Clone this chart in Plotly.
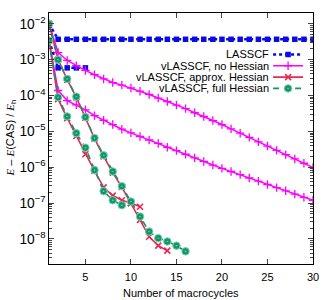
import plotly.graph_objects as go

# ---------------- data ----------------
iters_30 = list(range(1, 31))

lasscf_a_x = iters_30
lasscf_a_y = [1.0e-2, 3.7e-3, 3.7e-3, 3.7e-3, 3.7e-3, 3.7e-3, 3.7e-3, 3.7e-3, 3.7e-3, 3.7e-3,
              3.7e-3, 3.7e-3, 3.7e-3, 3.7e-3, 3.7e-3, 3.7e-3, 3.7e-3, 3.7e-3, 3.7e-3, 3.7e-3,
              3.7e-3, 3.7e-3, 3.7e-3, 3.7e-3, 3.7e-3, 3.7e-3, 3.7e-3, 3.7e-3, 3.7e-3, 3.7e-3]
lasscf_b_x = [1, 2, 3, 4, 5]
lasscf_b_y = [3.4e-3, 5.9e-4, 5.9e-4, 5.9e-4, 5.9e-4]

nohess_a_x = iters_30
nohess_a_y = [1.0e-2, 1.58e-3, 9.5e-4, 6.8e-4, 5.0e-4, 3.8e-4, 2.9e-4, 2.3e-4, 1.95e-4, 1.62e-4,
              1.32e-4, 1.07e-4, 8.5e-5, 6.8e-5, 5.4e-5, 4.3e-5, 3.3e-5, 2.6e-5, 2.0e-5, 1.55e-5,
              1.17e-5, 8.9e-6, 6.8e-6, 5.1e-6, 3.9e-6, 2.95e-6, 2.24e-6, 1.7e-6, 1.29e-6, 9.8e-7]
nohess_b_x = iters_30
nohess_b_y = [3.4e-3, 1.38e-4, 7.2e-5, 5.5e-5, 4.0e-5, 2.75e-5, 2.04e-5, 1.55e-5, 1.15e-5, 9.1e-6,
              7.2e-6, 5.75e-6, 4.6e-6, 3.6e-6, 2.9e-6, 2.3e-6, 1.82e-6, 1.45e-6, 1.15e-6, 9.3e-7,
              7.6e-7, 6.2e-7, 5.0e-7, 4.1e-7, 3.3e-7, 2.7e-7, 2.2e-7, 1.78e-7, 1.45e-7, 1.2e-7]

approx_a_x = list(range(1, 15))
approx_a_y = [1.0e-2, 1.0e-3, 2.75e-4, 8.9e-5, 2.4e-5, 6.3e-6, 2.0e-6, 7.1e-7, 2.8e-7, 1.0e-7,
              3.4e-8, 1.15e-8, 6.5e-9, 4.7e-9]
approx_b_x = list(range(1, 12))
approx_b_y = [3.4e-3, 7.9e-5, 2.35e-5, 7.4e-6, 2.3e-6, 7.9e-7, 2.75e-7, 1.62e-7, 1.2e-7, 1.0e-7, 7.9e-8]

full_a_x = list(range(1, 17))
full_a_y = [1.0e-2, 1.0e-3, 2.9e-4, 9.3e-5, 2.5e-5, 6.5e-6, 2.15e-6, 7.6e-7, 2.95e-7, 1.1e-7,
            4.2e-8, 1.6e-8, 1.05e-8, 8.5e-9, 6.5e-9, 4.5e-9]
full_b_x = list(range(1, 10))
full_b_y = [3.4e-3, 8.9e-5, 2.6e-5, 8.9e-6, 3.5e-6, 8.3e-7, 2.15e-7, 1.2e-7, 8.7e-8]

series_names = ["LASSCF", "vLASSCF, no Hessian", "vLASSCF, approx. Hessian", "vLASSCF, full Hessian"]
x_ticks = [5, 10, 15, 20, 25, 30]
x_title = "Number of macrocycles"
y_title = ("<span style='font-family:Liberation Serif'><i>E</i></span> \u2013 "
           "<span style='font-family:Liberation Serif'><i>E</i></span>(CAS) / "
           "<span style='font-family:Liberation Serif'><i>E</i></span><sub>h</sub>")

# ---------------- styles ----------------
BLUE = "#0a0ae6"
MAGENTA = "#ff00ff"
RED = "#e8294f"
GREEN = "#10966a"
FONT = "Liberation Sans, Arial, sans-serif"

styles = {
    "LASSCF": dict(line=dict(color=BLUE, width=2.5, dash="3px,3px"),
                   marker=dict(symbol="square", size=5.5, color=BLUE, line=dict(width=0))),
    "vLASSCF, no Hessian": dict(line=dict(color=MAGENTA, width=1.5),
                                marker=dict(symbol="cross-thin", size=6,
                                            line=dict(color=MAGENTA, width=1.3))),
    "vLASSCF, approx. Hessian": dict(line=dict(color=RED, width=1.6),
                                     marker=dict(symbol="x-thin", size=6,
                                                 line=dict(color=RED, width=1.6))),
    "vLASSCF, full Hessian": dict(line=dict(color=GREEN, width=1.6, dash="6px,5px"),
                                  marker=dict(symbol="circle-dot", size=7.5, color=GREEN,
                                              line=dict(color="#7fd3b3", width=1))),
}

data_pairs = {
    "LASSCF": [(lasscf_a_x, lasscf_a_y), (lasscf_b_x, lasscf_b_y)],
    "vLASSCF, no Hessian": [(nohess_a_x, nohess_a_y), (nohess_b_x, nohess_b_y)],
    "vLASSCF, approx. Hessian": [(approx_a_x, approx_a_y), (approx_b_x, approx_b_y)],
    "vLASSCF, full Hessian": [(full_a_x, full_a_y), (full_b_x, full_b_y)],
}

fig = go.Figure()
legend_ids = ["legend", "legend2", "legend3", "legend4"]
for i, name in enumerate(series_names):
    for j, (xs, ys) in enumerate(data_pairs[name]):
        fig.add_trace(go.Scatter(
            x=xs, y=ys, mode="lines+markers", name=" ",
            showlegend=(j == 0), legend=legend_ids[i],
            line=styles[name]["line"], marker=styles[name]["marker"],
            hoverinfo="skip",
        ))

# plot area in pixels
W, H = 332, 300
ML, MR, MT, MB = 48.5, 19, 13, 36
pw, ph = W - ML - MR, H - MT - MB


def px_to_paper_x(px):
    return (px - ML) / pw


def px_to_paper_y(py):
    return (H - MB - py) / ph


row_px = [54.5, 65.8, 77.1, 88.4]
layout_legends = {}
annotations = []
for i, name in enumerate(series_names):
    layout_legends[legend_ids[i]] = dict(
        x=px_to_paper_x(268), xanchor="left",
        y=px_to_paper_y(row_px[i]), yanchor="middle",
        bgcolor="rgba(0,0,0,0)", borderwidth=0, itemwidth=30,
        font=dict(size=6, family=FONT), tracegroupgap=0,
    )
    annotations.append(dict(
        text=name, x=px_to_paper_x(270.5), y=px_to_paper_y(row_px[i]),
        xref="paper", yref="paper", xanchor="right", yanchor="middle",
        showarrow=False, font=dict(size=11, family=FONT, color="black"),
    ))

# axis titles placed at the reference positions
annotations.append(dict(
    text=x_title, x=0.5, y=px_to_paper_y(292.5), xref="paper", yref="paper",
    xanchor="center", yanchor="middle", showarrow=False,
    font=dict(size=11, family=FONT, color="black"),
))
annotations.append(dict(
    text=y_title, x=px_to_paper_x(9.5), y=0.5, xref="paper", yref="paper",
    xanchor="center", yanchor="middle", textangle=-90, showarrow=False,
    font=dict(size=11, family=FONT, color="black"),
))

fig.update_layout(
    width=W, height=H,
    margin=dict(l=ML, r=MR, t=MT, b=MB, pad=0),
    paper_bgcolor="white", plot_bgcolor="white",
    font=dict(family=FONT, size=11, color="black"),
    annotations=annotations,
    **layout_legends,
)

fig.update_xaxes(
    range=[1, 30], tickvals=x_ticks, ticks="inside", ticklen=5, tickwidth=1,
    ticklabelstandoff=3,
    showline=True, linecolor="black", linewidth=1.2, mirror="ticks",
    showgrid=False, zeroline=False, tickfont=dict(size=11),
)
fig.update_yaxes(
    type="log", range=[-8.699, -1.699], dtick=1, exponentformat="power",
    ticks="inside", ticklen=5, tickwidth=1,
    minor=dict(ticks="inside", ticklen=3, dtick="D1", showgrid=False),
    showline=True, linecolor="black", linewidth=1.2, mirror="ticks",
    showgrid=False, zeroline=False, tickfont=dict(size=11),
)

fig.write_html("out.html", config={"displayModeBar": False},
               post_script="document.body.style.margin='0px';")
